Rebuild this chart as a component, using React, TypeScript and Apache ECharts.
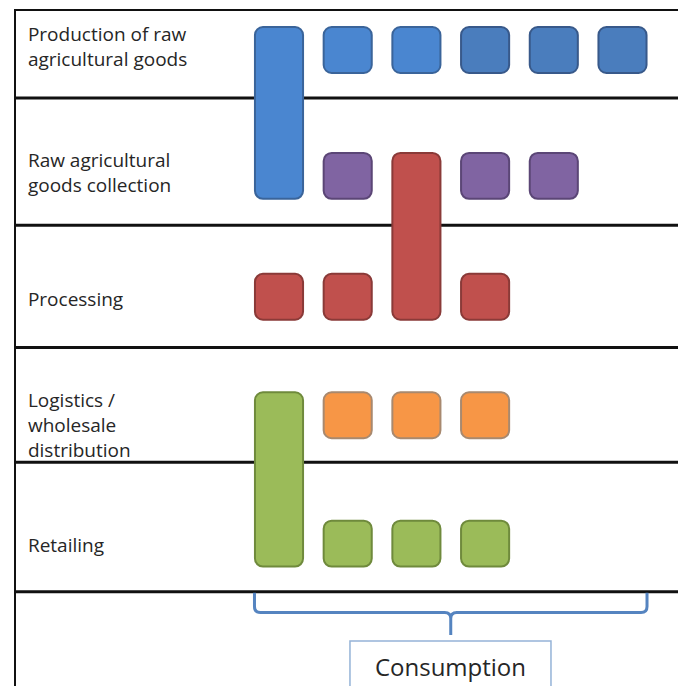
import React, { useEffect, useRef } from "react";
import * as echarts from "echarts";

// ---- Data ----
const ROW_LABELS = [
  "Production of raw\nagricultural goods",
  "Raw agricultural\ngoods collection",
  "Processing",
  "Logistics /\nwholesale\ndistribution",
  "Retailing",
];
// vertical centre of each stage row (row units)
const ROW_CENTERS = [0, 1.02, 2.0, 2.96, 4.0];
// vertical centre of each row's label block
const LABEL_ROWS = [-0.03, 0.99, 2.02, 3.04, 4.01];
// horizontal separator lines below each row
const DIVIDERS = [0.39, 1.42, 2.41, 3.34, 4.39];

// blocks: column, first row, last row, colour key
const BLOCK_COLS = [0, 1, 2, 3, 4, 5, 1, 3, 4, 2, 0, 1, 3, 0, 1, 2, 3, 1, 2, 3];
const BLOCK_FROM = [0, 0, 0, 0, 0, 0, 1, 1, 1, 1, 2, 2, 2, 3, 3, 3, 3, 4, 4, 4];
const BLOCK_TO = [1, 0, 0, 0, 0, 0, 1, 1, 1, 2, 2, 2, 2, 4, 3, 3, 3, 4, 4, 4];
const BLOCK_KIND = [
  "blueLight", "blueLight", "blueLight", "blue", "blue", "blue",
  "purple", "purple", "purple", "red",
  "red", "red", "red",
  "green", "orange", "orange", "orange",
  "green", "green", "green",
];

const CONSUMPTION_LABEL = "Consumption";

// ---- Styles ----
const KIND_STYLE: Record<string, { fill: string; stroke: string }> = {
  blueLight: { fill: "#4a86d0", stroke: "#3a649a" },
  blue: { fill: "#4a7dbd", stroke: "#38598a" },
  purple: { fill: "#8064a2", stroke: "#5b4676" },
  red: { fill: "#c0504d", stroke: "#8a3a38" },
  orange: { fill: "#f79646", stroke: "#a8896f" },
  green: { fill: "#9bbb59", stroke: "#6f8a3c" },
};
const HALF_W = 0.35; // column units
const HALF_H = 0.186; // row units
const TEXT_COLOR = "#262626";
const FONT = "'Open Sans', 'Noto Sans', sans-serif";

// axis extents (column units / row units)
const X_MIN = -3.843;
const X_MAX = 5.808;
const Y_MIN = -0.324;
const Y_MAX = 5.154;

// bracket & consumption box (in axis units)
const BRACKET = { from: -0.357, to: 5.357, mid: 2.5, bar: 4.558, tip: 4.74 };
const BOX = { from: 1.033, to: 3.959, top: 4.789, text: 5.0 };
const LABEL_X = -3.655;

export default function App() {
  const ref = useRef<HTMLDivElement>(null);

  useEffect(() => {
    if (!ref.current) return;
    document.body.style.margin = "0";
    document.body.style.padding = "0";
    const chart = echarts.init(ref.current, undefined, { renderer: "svg" });

    const blockData = BLOCK_COLS.map((c, i) => [
      c,
      ROW_CENTERS[BLOCK_FROM[i]],
      ROW_CENTERS[BLOCK_TO[i]],
      i,
    ]);

    const option: any = {
      animation: false,
      backgroundColor: "#ffffff",
      grid: { left: 15, right: 0, top: 10, bottom: 0, outerBoundsMode: "none", containLabel: false },
      xAxis: { type: "value", min: X_MIN, max: X_MAX, show: false },
      yAxis: { type: "value", min: Y_MIN, max: Y_MAX, inverse: true, show: false },
      tooltip: { show: false },
      series: [
        // frame: top border + left border
        {
          type: "custom",
          silent: true,
          data: [[0]],
          renderItem: (params: any, api: any) => {
            const cs = params.coordSys;
            return {
              type: "group",
              children: [
                {
                  type: "line",
                  shape: { x1: cs.x - 1, y1: cs.y, x2: cs.x + cs.width, y2: cs.y },
                  style: { stroke: "#111", lineWidth: 2 },
                },
                {
                  type: "line",
                  shape: { x1: cs.x, y1: cs.y, x2: cs.x, y2: cs.y + cs.height },
                  style: { stroke: "#111", lineWidth: 2 },
                },
              ],
            };
          },
        },
        // horizontal separators
        {
          type: "custom",
          silent: true,
          data: DIVIDERS.map((d) => [d]),
          encode: { y: 0 },
          renderItem: (params: any, api: any) => {
            const cs = params.coordSys;
            const y = api.coord([0, api.value(0)])[1];
            return {
              type: "line",
              shape: { x1: cs.x, y1: y, x2: cs.x + cs.width, y2: y },
              style: { stroke: "#111", lineWidth: 3 },
            };
          },
        },
        // stage labels
        {
          type: "custom",
          silent: true,
          data: LABEL_ROWS.map((r, i) => [LABEL_X, r, i]),
          encode: { x: 0, y: 1 },
          renderItem: (params: any, api: any) => {
            const p = api.coord([api.value(0), api.value(1)]);
            const text = ROW_LABELS[api.value(2)];
            return {
              type: "text",
              x: p[0],
              y: p[1],
              style: {
                text,
                font: `19px ${FONT}`,
                fill: TEXT_COLOR,
                align: "left",
                verticalAlign: "middle",
                textAlign: "left",
                textVerticalAlign: "middle",
                lineHeight: 25,
              },
            };
          },
        },
        // blocks
        {
          type: "custom",
          silent: true,
          data: blockData,
          encode: { x: 0, y: [1, 2] },
          renderItem: (params: any, api: any) => {
            const c = api.value(0);
            const p1 = api.coord([c - HALF_W, api.value(1) - HALF_H]);
            const p2 = api.coord([c + HALF_W, api.value(2) + HALF_H]);
            const st = KIND_STYLE[BLOCK_KIND[api.value(3)]];
            return {
              type: "rect",
              shape: { x: p1[0], y: p1[1], width: p2[0] - p1[0], height: p2[1] - p1[1], r: 8 },
              style: { fill: st.fill, stroke: st.stroke, lineWidth: 2 },
            };
          },
        },
        // bracket
        {
          type: "custom",
          silent: true,
          data: [[BRACKET.from, BRACKET.to, DIVIDERS[4], BRACKET.bar, BRACKET.tip, BRACKET.mid]],
          encode: { x: [0, 1], y: [2, 4] },
          renderItem: (params: any, api: any) => {
            const L = api.coord([api.value(0), 0])[0];
            const R = api.coord([api.value(1), 0])[0];
            const C = api.coord([api.value(5), 0])[0];
            const T = api.coord([0, api.value(2)])[1] + 1;
            const H = api.coord([0, api.value(3)])[1];
            const B = api.coord([0, api.value(4)])[1];
            const r = 6;
            const d =
              `M${L},${T} L${L},${H - r} Q${L},${H} ${L + r},${H} L${C - r},${H} Q${C},${H} ${C},${H + r} L${C},${B} ` +
              `M${C},${H + r} Q${C},${H} ${C + r},${H} L${R - r},${H} Q${R},${H} ${R},${H - r} L${R},${T}`;
            return {
              type: "path",
              shape: { pathData: d },
              style: { fill: "none", stroke: "#5584c0", lineWidth: 3 },
            };
          },
        },
        // consumption box
        {
          type: "custom",
          silent: true,
          data: [[BOX.from, BOX.to, BOX.top, BOX.text]],
          encode: { x: [0, 1], y: [2, 3] },
          renderItem: (params: any, api: any) => {
            const p1 = api.coord([api.value(0), api.value(2)]);
            const p2 = api.coord([api.value(1), api.value(3)]);
            const cx = (p1[0] + p2[0]) / 2;
            return {
              type: "group",
              children: [
                {
                  type: "rect",
                  shape: { x: p1[0], y: p1[1], width: p2[0] - p1[0], height: 80 },
                  style: { fill: "#ffffff", stroke: "#95b3d7", lineWidth: 1.5 },
                },
                {
                  type: "text",
                  x: cx,
                  y: p2[1],
                  style: {
                    text: CONSUMPTION_LABEL,
                    font: `24px ${FONT}`,
                    fill: TEXT_COLOR,
                    align: "center",
                    verticalAlign: "middle",
                    textAlign: "center",
                    textVerticalAlign: "middle",
                  },
                },
              ],
            };
          },
        },
      ],
    };

    chart.setOption(option);
    return () => chart.dispose();
  }, []);

  return <div ref={ref} style={{ width: 678, height: 686, background: "#fff" }} />;
}
